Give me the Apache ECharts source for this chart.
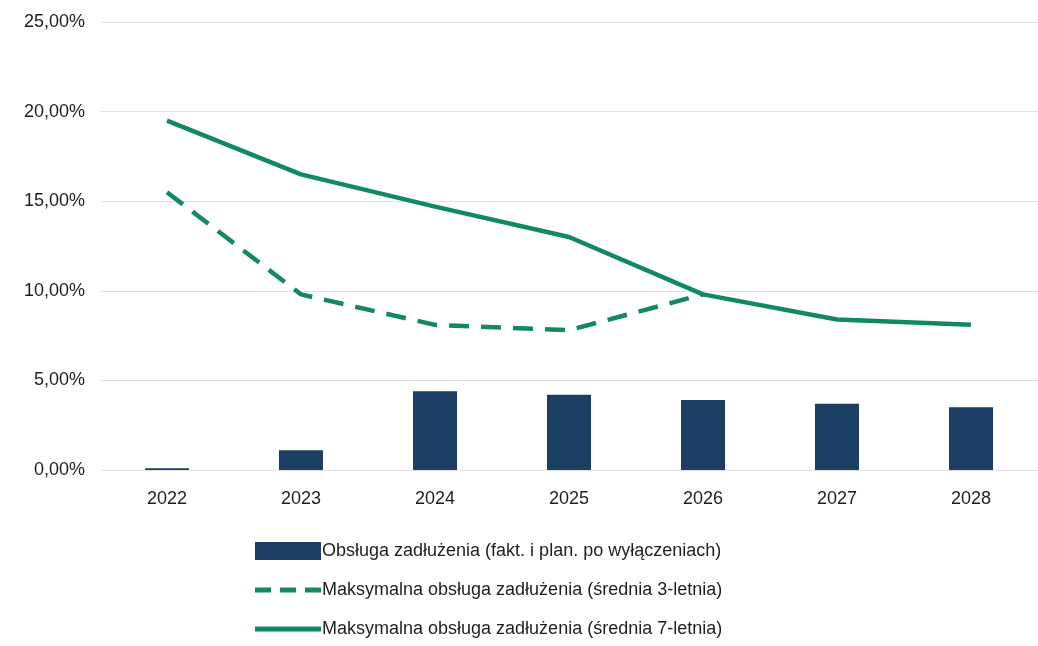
<!DOCTYPE html>
<html>
<head>
<meta charset="utf-8">
<script src="https://cdn.jsdelivr.net/npm/echarts@6/dist/echarts.min.js"></script>
<style>
  html, body { margin: 0; padding: 0; background: #fff; }
  #chart { width: 1038px; height: 646px; }
</style>
</head>
<body>
<div id="chart"></div>
<script>
// lata
const years = ['2022', '2023', '2024', '2025', '2026', '2027', '2028']
// obsługa zadłużenia (słupki), w %
const debtService = [0.1, 1.1, 4.4, 4.2, 3.9, 3.7, 3.5]
// średnia 3-letnia (linia przerywana) – kończy się w 2026
const max3y = [15.5, 9.8, 8.1, 7.8, 9.8, null, null]
// średnia 7-letnia (linia ciągła)
const max7y = [19.5, 16.5, 14.7, 13.0, 9.8, 8.4, 8.1]

const names = [
  'Obsługa zadłużenia (fakt. i plan. po wyłączeniach)',
  'Maksymalna obsługa zadłużenia (średnia 3-letnia)',
  'Maksymalna obsługa zadłużenia (średnia 7-letnia)',
]

const green = '#128a5b'
const navy = '#1d3e63'
const textColor = '#1e1e1e'

// ikony legendy
const iconBar = 'path://M0,0H66V18H0Z'
const iconSolid = 'path://M0,0H66V5H0Z'
const iconDash = 'path://M0,0H16V5H0Z M25,0H41V5H25Z M50,0H66V5H50Z'

const chart = echarts.init(document.getElementById('chart'))

const option = {
  backgroundColor: '#fff',
  animation: false,
  textStyle: { fontFamily: 'Liberation Sans, Arial, sans-serif' },
  grid: { left: 100, top: 22, width: 945, height: 448 },
  legend: {
    orient: 'vertical',
    left: 250,
    top: 537,
    itemGap: 21,
    itemWidth: 66,
    itemHeight: 18,
    symbolKeepAspect: true,
    textStyle: { fontSize: 18, color: textColor, padding: [0, 0, 0, -4] },
    data: [
      { name: names[0], icon: iconBar, itemStyle: { color: navy } },
      { name: names[1], icon: iconDash, itemStyle: { color: green } },
      { name: names[2], icon: iconSolid, itemStyle: { color: green } },
    ],
  },
  xAxis: {
    type: 'category',
    data: years,
    axisTick: { show: false },
    axisLine: { show: false },
    axisLabel: { color: textColor, fontSize: 18, margin: 20 },
  },
  yAxis: {
    type: 'value',
    min: 0,
    max: 25,
    interval: 5,
    axisLabel: {
      color: textColor,
      fontSize: 18,
      margin: 15,
      formatter: v => v.toFixed(2).replace('.', ',') + '%',
    },
    splitLine: { lineStyle: { color: '#e2e2e2', width: 1 } },
  },
  series: [
    {
      name: names[0],
      type: 'bar',
      data: debtService,
      barWidth: 44,
      itemStyle: { color: navy },
    },
    {
      name: names[1],
      type: 'line',
      data: max3y,
      symbol: 'none',
      lineStyle: { color: green, width: 4.5, type: [20, 12] },
      itemStyle: { color: green },
    },
    {
      name: names[2],
      type: 'line',
      data: max7y,
      symbol: 'none',
      lineStyle: { color: green, width: 4.5 },
      itemStyle: { color: green },
    },
  ],
}

chart.setOption(option)
</script>
</body>
</html>
